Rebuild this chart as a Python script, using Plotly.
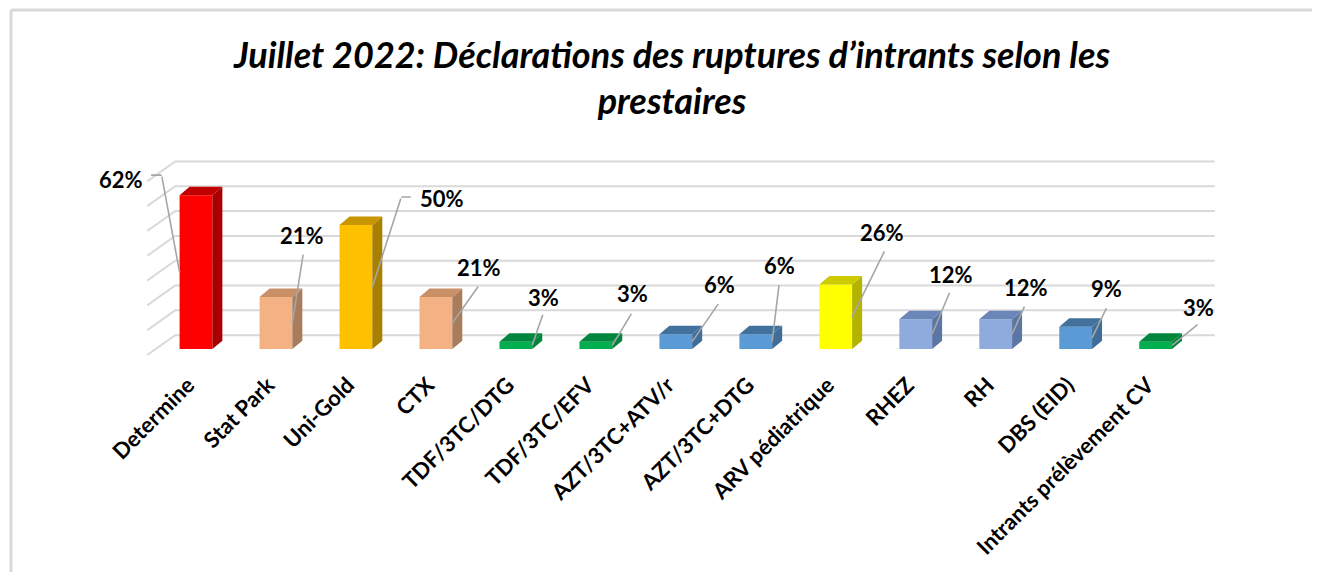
import plotly.graph_objects as go

# ---------------- data ----------------
categories = ["Determine", "Stat Park", "Uni-Gold", "CTX", "TDF/3TC/DTG", "TDF/3TC/EFV",
              "AZT/3TC+ATV/r", "AZT/3TC+DTG", "ARV pédiatrique", "RHEZ", "RH", "DBS (EID)",
              "Intrants prélèvement CV"]
values = [62, 21, 50, 21, 3, 3, 6, 6, 26, 12, 12, 9, 3]
value_labels = ["62%", "21%", "50%", "21%", "3%", "3%", "6%", "6%", "26%", "12%", "12%", "9%", "3%"]
gridline_values = [0, 10, 20, 30, 40, 50, 60, 70]
title_text = "Juillet 2022: Déclarations des ruptures d’intrants selon les<br>prestaires"

# ---------------- styles ----------------
# (front, side, top) colours per bar
palette = {
    "red": ("#FF0000", "#A80000", "#C00000"),
    "peach": ("#F4B183", "#A97C5C", "#C99068"),
    "gold": ("#FFC000", "#A88000", "#C79600"),
    "green": ("#00B050", "#00843C", "#00873D"),
    "blue": ("#5B9BD5", "#3E6D99", "#41719C"),
    "yellow": ("#FFFF00", "#B3B300", "#CCCC00"),
    "lav": ("#8FAADC", "#5C76A3", "#6B86B8"),
}
bar_colors = ["red", "peach", "gold", "peach", "green", "green", "blue", "blue",
              "yellow", "lav", "lav", "blue", "green"]

# label layout: (tip side, line tail dx, dy, text dx, dy, horizontal segment dx) in pixels
label_layout = [
    (-1, -18, -97, -59, -93, -12),
    (1, 11, -70, 10, -88, 0),
    (1, 29, -90, 70, -89, 11),
    (1, 27, -38, 27, -56, 0),
    (1, 11, -32, 11, -48, 0),
    (1, 20, -33, 20, -52, 0),
    (1, 27, -39, 27, -57, 0),
    (1, 7, -58, 7, -76, 0),
    (1, 33, -67, 30, -84, 0),
    (1, 18, -43, 19, -60, 0),
    (1, 13, -29, 14, -47, 0),
    (1, 15, -31, 14, -49, 0),
    (1, 27, -22, 26, -38, 0),
]

BAR_W = 0.41
DEPTH_X = 0.125
DEPTH_Y = 3.4
FONT = "Lato"
X_RANGE = [-0.65, 12.78]
Y_RANGE = [-4, 77]

# the page has an 8px body margin: figure pixel = page pixel - 8
OFF = 8
FIG_W, FIG_H = 1320 - OFF, 580 - 2 * OFF
L, T = 144 - OFF, 158 - OFF
R = FIG_W - (1218 - OFF)
B = FIG_H - (359 - OFF)
pw = FIG_W - L - R
ph = FIG_H - T - B


def px_x(p):  # page pixel -> paper x
    return (p - OFF - L) / pw


def px_y(p):  # page pixel -> paper y
    return (FIG_H - B - (p - OFF)) / ph


x_pos = list(range(len(categories)))

fig = go.Figure()

# back wall gridlines (3D look), on the base axes so they sit behind the bars
gx, gy = [], []
for t in gridline_values:
    gx += [-0.61, -0.26, 12.74, None]
    gy += [t - 2.4, t + 5.6, t + 5.6, None]
fig.add_trace(go.Scatter(x=gx, y=gy, mode="lines", line=dict(color="#d9d9d9", width=2),
                         hoverinfo="skip", showlegend=False, xaxis="x", yaxis="y"))

# front faces
fig.add_trace(go.Bar(
    x=x_pos, y=values, width=BAR_W, xaxis="x2", yaxis="y2",
    marker=dict(color=[palette[c][0] for c in bar_colors], line=dict(width=0)),
    hovertext=[f"{c}: {l}" for c, l in zip(categories, value_labels)], hoverinfo="text",
    showlegend=False))

# side and top faces
for i, v in enumerate(values):
    front, side, top = palette[bar_colors[i]]
    r = i + BAR_W / 2
    l = i - BAR_W / 2
    fig.add_trace(go.Scatter(
        x=[r, r + DEPTH_X, r + DEPTH_X, r, r],
        y=[0, DEPTH_Y, v + DEPTH_Y, v, 0],
        fill="toself", fillcolor=side, mode="lines", line=dict(width=0, color=side),
        hoverinfo="skip", showlegend=False, xaxis="x2", yaxis="y2"))
    fig.add_trace(go.Scatter(
        x=[l, l + DEPTH_X, r + DEPTH_X, r, l],
        y=[v, v + DEPTH_Y, v + DEPTH_Y, v, v],
        fill="toself", fillcolor=top, mode="lines", line=dict(width=0, color=top),
        hoverinfo="skip", showlegend=False, xaxis="x2", yaxis="y2"))

annotations = []
for i, (v, lab) in enumerate(zip(values, value_labels)):
    side_sign, lx, ly, tx, ty, hx = label_layout[i]
    tip_x = i + side_sign * BAR_W / 2
    tip_y = v / 2
    annotations.append(dict(x=tip_x, y=tip_y, xref="x", yref="y", text="", showarrow=True,
                            arrowhead=0, arrowwidth=1.6, arrowcolor="#a6a6a6",
                            ax=lx, ay=ly, standoff=0, startstandoff=0))
    if hx:
        annotations.append(dict(x=tip_x, y=tip_y, xref="x", yref="y", text="", showarrow=True,
                                arrowhead=0, arrowwidth=1.6, arrowcolor="#a6a6a6",
                                xshift=lx, yshift=-ly, ax=hx, ay=0, standoff=0, startstandoff=0))
    annotations.append(dict(x=tip_x, y=tip_y, xref="x", yref="y", text=lab, showarrow=False,
                            xshift=tx, yshift=-ty, xanchor="center", yanchor="middle",
                            font=dict(family=FONT, size=22, color="#000000", weight="bold")))

# chart border (light grey frame, cropped on the right/bottom)
shapes = [
    dict(type="line", xref="paper", yref="paper", x0=px_x(11), x1=px_x(1340), y0=px_y(10), y1=px_y(10),
         line=dict(color="#d9d9d9", width=3)),
    dict(type="line", xref="paper", yref="paper", x0=px_x(11), x1=px_x(11), y0=px_y(10), y1=px_y(600),
         line=dict(color="#d9d9d9", width=3)),
]

fig.update_layout(
    width=FIG_W, height=FIG_H,
    margin=dict(l=L, r=R, t=T, b=B, autoexpand=False),
    paper_bgcolor="white", plot_bgcolor="white",
    barmode="overlay",
    title=dict(text=title_text, x=(672 - OFF) / FIG_W, xanchor="center",
               y=1 - (67.5 - OFF) / FIG_H, yanchor="middle",
               font=dict(family=FONT, size=36, color="#000000", weight="bold", style="italic")),
    xaxis=dict(range=X_RANGE, tickvals=x_pos, ticktext=categories, tickangle=-45,
               showgrid=False, zeroline=False, showline=False, ticks="",
               tickfont=dict(family=FONT, size=22, color="#000000", weight="bold"),
               automargin=False, ticklabelstandoff=8, ticklabelshift=-8, fixedrange=True),
    yaxis=dict(range=Y_RANGE, showgrid=False, zeroline=False, showticklabels=False,
               showline=False, ticks="", automargin=False, fixedrange=True),
    xaxis2=dict(range=X_RANGE, overlaying="x", showgrid=False, zeroline=False,
                showticklabels=False, showline=False, ticks="", fixedrange=True),
    yaxis2=dict(range=Y_RANGE, overlaying="y", showgrid=False, zeroline=False,
                showticklabels=False, showline=False, ticks="", fixedrange=True),
    annotations=annotations,
    shapes=shapes,
)

fig.write_html("out.html")
